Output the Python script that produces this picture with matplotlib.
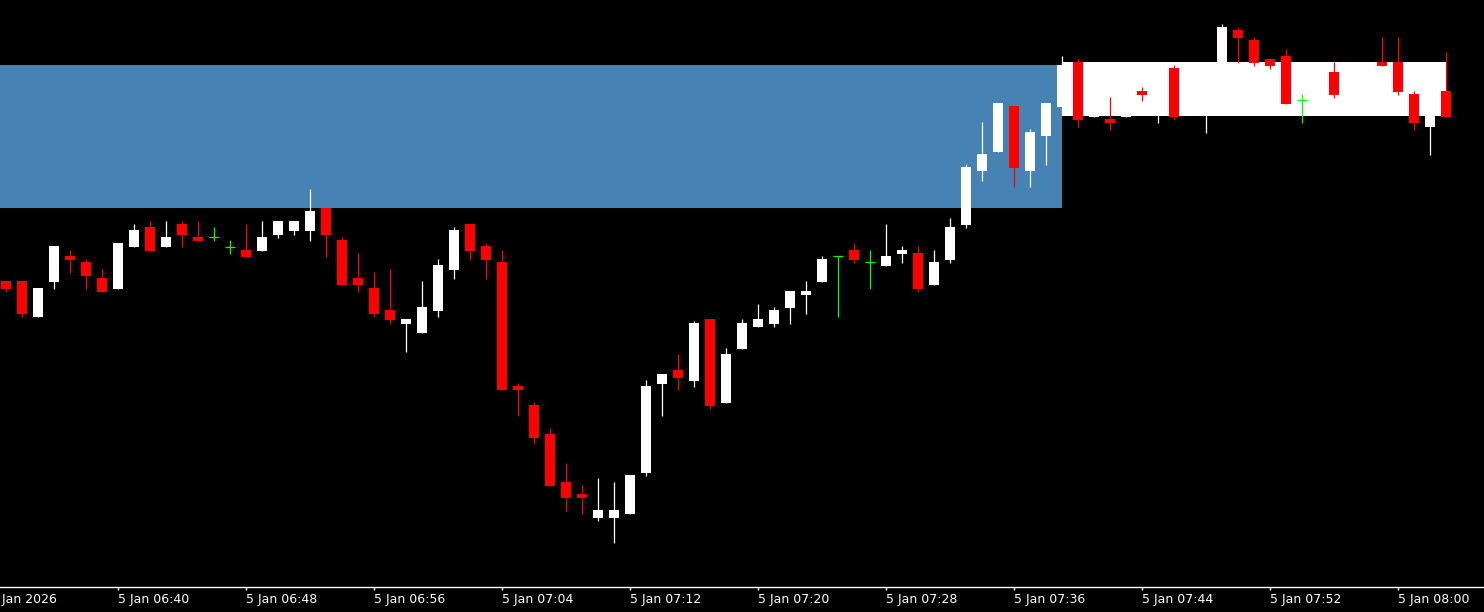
import matplotlib
matplotlib.use("Agg")
import matplotlib.pyplot as plt
from matplotlib.patches import Rectangle
import matplotlib.transforms as mtransforms

# 1-minute candles, 5 Jan 2026 06:33 .. 08:03
opens = [4431.9, 4431.9, 4428.3, 4431.8, 4434.4, 4433.8, 4432.2, 4431.1, 4435.3, 4437.3,
         4435.3, 4437.6, 4436.3, 4436.3, 4435.3, 4435.0, 4434.9, 4436.5, 4436.9, 4436.9,
         4439.2, 4436.0, 4432.2, 4431.2, 4429.0, 4427.6, 4426.7, 4428.9, 4433.0, 4437.6,
         4435.4, 4433.8, 4421.4, 4419.5, 4416.6, 4411.8, 4410.6, 4408.2, 4408.2, 4408.6,
         4412.7, 4421.6, 4423.0, 4421.9, 4428.1, 4419.7, 4425.1, 4427.3, 4427.6, 4429.2,
         4430.5, 4431.8, 4434.4, 4435.0, 4433.8, 4433.4, 4434.6, 4434.7, 4431.5, 4434.0,
         4437.5, 4442.9, 4444.8, 4449.4, 4442.9, 4446.4, 4449.3, 4453.8, 4448.3, 4448.1,
         4448.3, 4450.9, 4449.0, 4453.2, 4449.5, 4450.0, 4452.0, 4457.0, 4456.0, 4454.1,
         4454.4, 4450.0, 4450.0, 4452.8, 4451.0, 4451.5, 4453.8, 4453.8, 4450.6, 4447.3,
         4450.9]
highs = [4431.9, 4431.9, 4431.2, 4435.4, 4435.0, 4434.1, 4433.1, 4435.7, 4437.6, 4437.9,
         4437.9, 4437.9, 4437.9, 4437.3, 4436.0, 4437.6, 4437.9, 4437.9, 4437.9, 4441.1,
         4439.2, 4436.3, 4434.7, 4432.8, 4433.1, 4428.1, 4431.9, 4434.1, 4437.3, 4437.6,
         4435.7, 4435.0, 4421.7, 4419.8, 4417.2, 4413.7, 4411.5, 4412.2, 4411.8, 4412.5,
         4422.0, 4422.6, 4424.6, 4427.9, 4428.1, 4425.2, 4428.1, 4429.6, 4429.3, 4430.9,
         4431.9, 4434.4, 4434.4, 4435.7, 4435.0, 4437.6, 4435.4, 4435.4, 4435.0, 4438.2,
         4443.6, 4447.8, 4449.7, 4449.4, 4447.1, 4449.7, 4454.4, 4454.1, 4450.5, 4450.3,
         4450.0, 4451.3, 4451.0, 4453.5, 4452.5, 4453.5, 4457.6, 4457.3, 4456.3, 4454.1,
         4455.1, 4450.6, 4452.5, 4453.8, 4453.5, 4453.8, 4456.3, 4456.3, 4450.9, 4450.5,
         4454.8]
lows = [4430.8, 4428.3, 4428.3, 4431.1, 4432.7, 4431.1, 4430.8, 4431.1, 4435.3, 4434.9,
        4435.3, 4435.3, 4435.9, 4435.9, 4434.6, 4434.3, 4434.9, 4436.2, 4436.5, 4435.9,
        4434.3, 4431.5, 4430.8, 4428.3, 4427.6, 4424.8, 4426.7, 4428.3, 4432.1, 4434.0,
        4432.1, 4421.0, 4418.4, 4415.6, 4411.4, 4408.9, 4408.6, 4407.9, 4405.7, 4408.6,
        4412.4, 4418.4, 4421.0, 4421.3, 4419.1, 4419.7, 4425.1, 4427.3, 4427.3, 4427.6,
        4428.6, 4431.8, 4428.3, 4433.7, 4431.1, 4433.4, 4433.7, 4430.8, 4431.5, 4433.7,
        4437.2, 4441.9, 4444.8, 4441.3, 4441.3, 4443.5, 4448.6, 4447.3, 4448.3, 4447.0,
        4448.3, 4449.9, 4447.7, 4448.0, 4449.0, 4446.7, 4451.5, 4453.7, 4453.4, 4453.1,
        4449.6, 4447.7, 4449.5, 4450.2, 4450.5, 4451.0, 4453.4, 4450.5, 4447.0, 4444.5,
        4448.3]
closes = [4431.1, 4428.6, 4431.2, 4435.4, 4434.0, 4432.4, 4430.8, 4435.7, 4437.0, 4434.9,
          4436.3, 4436.5, 4435.9, 4436.3, 4435.3, 4434.3, 4436.3, 4437.9, 4437.9, 4438.9,
          4436.5, 4431.5, 4431.5, 4428.6, 4428.0, 4428.1, 4429.3, 4433.5, 4437.0, 4434.9,
          4434.0, 4421.0, 4421.0, 4416.2, 4411.4, 4410.2, 4410.2, 4409.0, 4409.0, 4412.5,
          4421.4, 4422.6, 4422.2, 4427.7, 4419.4, 4424.6, 4427.7, 4428.1, 4429.0, 4430.9,
          4430.9, 4434.1, 4434.4, 4434.0, 4433.8, 4434.4, 4435.0, 4431.1, 4433.8, 4437.3,
          4443.3, 4444.6, 4449.7, 4443.2, 4446.8, 4449.7, 4453.5, 4448.0, 4450.0, 4447.7,
          4449.5, 4450.5, 4450.5, 4448.3, 4452.0, 4453.0, 4457.3, 4456.2, 4453.7, 4453.4,
          4449.6, 4450.0, 4452.0, 4450.5, 4453.0, 4453.5, 4453.4, 4450.8, 4447.7, 4450.0,
          4448.3]

tick_idx = [-1, 7, 15, 23, 31, 39, 47, 55, 63, 71, 79, 87]
tick_labels = ["5 Jan 2026", "5 Jan 06:40", "5 Jan 06:48", "5 Jan 06:56", "5 Jan 07:04",
               "5 Jan 07:12", "5 Jan 07:20", "5 Jan 07:28", "5 Jan 07:36", "5 Jan 07:44",
               "5 Jan 07:52", "5 Jan 08:00"]

# zones: (start index, end index, top price, bottom price)
blue_zone = (-2, 66, 4453.5, 4439.2)
white_zone = (66, 90, 4453.8, 4448.4)

fig = plt.figure(figsize=(14.84, 6.12), dpi=100, facecolor="black")
ax = fig.add_axes([0, 25 / 612, 1, 587 / 612])
ax.set_facecolor("black")

for (x0, x1, top, bot), col in [(blue_zone, "#4682B4"), (white_zone, "white")]:
    ax.add_patch(Rectangle((x0, bot), x1 - x0, top - bot, facecolor=col,
                           edgecolor="none", zorder=1))

w = 0.66
for i in range(len(opens)):
    o, h, l, c = opens[i], highs[i], lows[i], closes[i]
    if c > o:
        col = "white"
    elif c < o:
        col = "#FF0000"
    else:
        col = "#00FF00"
    ax.vlines(i, l, h, color=col, linewidth=0.9, zorder=2)
    if c == o:
        ax.hlines(o, i - w / 2, i + w / 2, color=col, linewidth=0.9, zorder=3)
    else:
        ax.bar(i, abs(c - o), bottom=min(o, c), width=w, color=col,
               linewidth=0, zorder=3)

ax.set_xlim(-0.375, 92.375)
ax.set_ylim(4460 - 58.7, 4460)

for s in ["top", "left", "right"]:
    ax.spines[s].set_visible(False)
ax.spines["bottom"].set_color("white")
ax.spines["bottom"].set_linewidth(1)
ax.set_yticks([])

tick_len = 2.2
tick_pad = 2.0
ax.set_xticks(tick_idx[1:])
ax.set_xticklabels(tick_labels[1:])
ax.tick_params(axis="x", colors="white", length=tick_len, width=1, pad=tick_pad,
               labelsize=9)
for lab in ax.get_xticklabels():
    lab.set_horizontalalignment("left")

# first label sits left of the visible range and gets cut by the edge
trans = mtransforms.blended_transform_factory(ax.transData, ax.transAxes)
trans = trans + mtransforms.ScaledTranslation(0, -(tick_len + tick_pad) / 72,
                                              fig.dpi_scale_trans)
ax.text(tick_idx[0], 0, tick_labels[0], transform=trans, color="white",
        fontsize=9, ha="left", va="top", clip_on=False)

fig.savefig("out.png", dpi=100, facecolor="black")
